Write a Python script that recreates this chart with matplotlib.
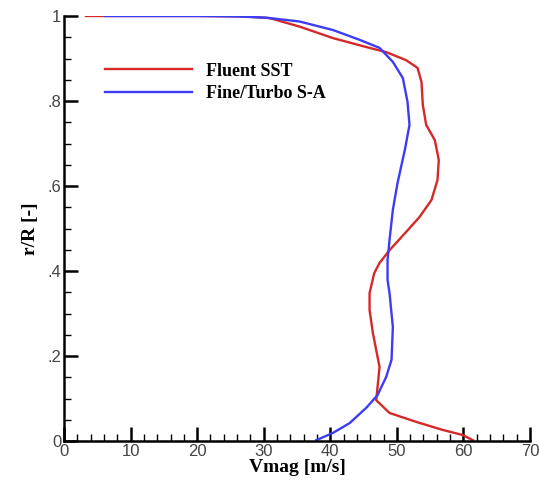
import matplotlib
matplotlib.use("Agg")
import matplotlib.pyplot as plt
from matplotlib.ticker import MultipleLocator, FuncFormatter

# Fluent SST
sst_v = [3.3, 20.0, 27.0, 30.9, 35.4, 40.4, 45.4, 48.4, 51.4, 53.1, 53.7, 53.9, 54.4, 55.7, 56.3, 56.1,
         55.2, 53.4, 51.4, 48.9, 47.4, 46.6, 45.9, 45.9, 46.4, 47.4, 47.1, 46.9, 48.9, 52.9, 56.9,
         59.9, 61.4]
sst_r = [1.0, 1.0, 0.999, 0.995, 0.975, 0.948, 0.927, 0.915, 0.896, 0.878, 0.845, 0.791, 0.744, 0.708,
         0.661, 0.614, 0.567, 0.527, 0.492, 0.449, 0.419, 0.395, 0.348, 0.308, 0.254, 0.174, 0.127,
         0.096, 0.066, 0.045, 0.026, 0.014, 0.002]

# Fine/Turbo S-A
sa_v = [6.2, 20.4, 26.0, 30.4, 35.4, 40.4, 44.4, 47.4, 49.4, 50.9, 51.6, 51.9, 51.2, 50.1, 49.4,
        48.9, 48.6, 48.6, 48.9, 49.4, 49.2, 48.4, 47.1, 45.4, 42.9, 40.4, 37.9]
sa_r = [1.0, 1.0, 0.999, 0.996, 0.987, 0.967, 0.944, 0.925, 0.892, 0.854, 0.798, 0.744, 0.685, 0.607,
        0.544, 0.473, 0.426, 0.379, 0.348, 0.268, 0.191, 0.151, 0.108, 0.078, 0.042, 0.019, 0.002]

fig = plt.figure(figsize=(5.39, 4.86), dpi=100)
ax = fig.add_axes([64/539, 45/486, 466/539, 425/486])

ax.plot(sst_v, sst_r, color="#d62828", lw=1.7, label="Fluent SST", solid_joinstyle="round")
ax.plot(sa_v, sa_r, color="#3c3cf5", lw=1.7, label="Fine/Turbo S-A", solid_joinstyle="round")

ax.set_xlim(0, 70)
ax.set_ylim(0, 1)
ax.spines["top"].set_visible(False)
ax.spines["right"].set_visible(False)
for s in ("left", "bottom"):
    ax.spines[s].set_linewidth(1.8)

ax.xaxis.set_major_locator(MultipleLocator(10))
ax.xaxis.set_minor_locator(MultipleLocator(2))
ax.yaxis.set_major_locator(MultipleLocator(0.2))
ax.yaxis.set_minor_locator(MultipleLocator(0.05))

def yfmt(v, pos):
    if abs(v) < 1e-9:
        return "0"
    if abs(v - 1) < 1e-9:
        return "1"
    return ("%.1f" % v).lstrip("0")
ax.yaxis.set_major_formatter(FuncFormatter(yfmt))

ax.tick_params(which="major", direction="in", length=10, width=1.8, labelsize=12,
               labelcolor="#444444", pad=2)
ax.tick_params(which="minor", direction="in", length=5, width=1.0)
for lab in ax.get_xticklabels() + ax.get_yticklabels():
    lab.set_family("Liberation Sans")

ax.set_xlabel("Vmag [m/s]", family="Liberation Serif", fontweight="bold", fontsize=14, labelpad=0)
ax.set_ylabel("r/R [-]", family="Liberation Serif", fontweight="bold", fontsize=14, labelpad=6)

leg = ax.legend(loc="upper left", bbox_to_anchor=(0.088, 0.89), frameon=False, handlelength=4.8,
                prop={"family": "Liberation Serif", "weight": "bold", "size": 13}, labelspacing=0.3,
                handletextpad=0.8, borderpad=0, borderaxespad=0)

fig.savefig("out.png", dpi=100)
